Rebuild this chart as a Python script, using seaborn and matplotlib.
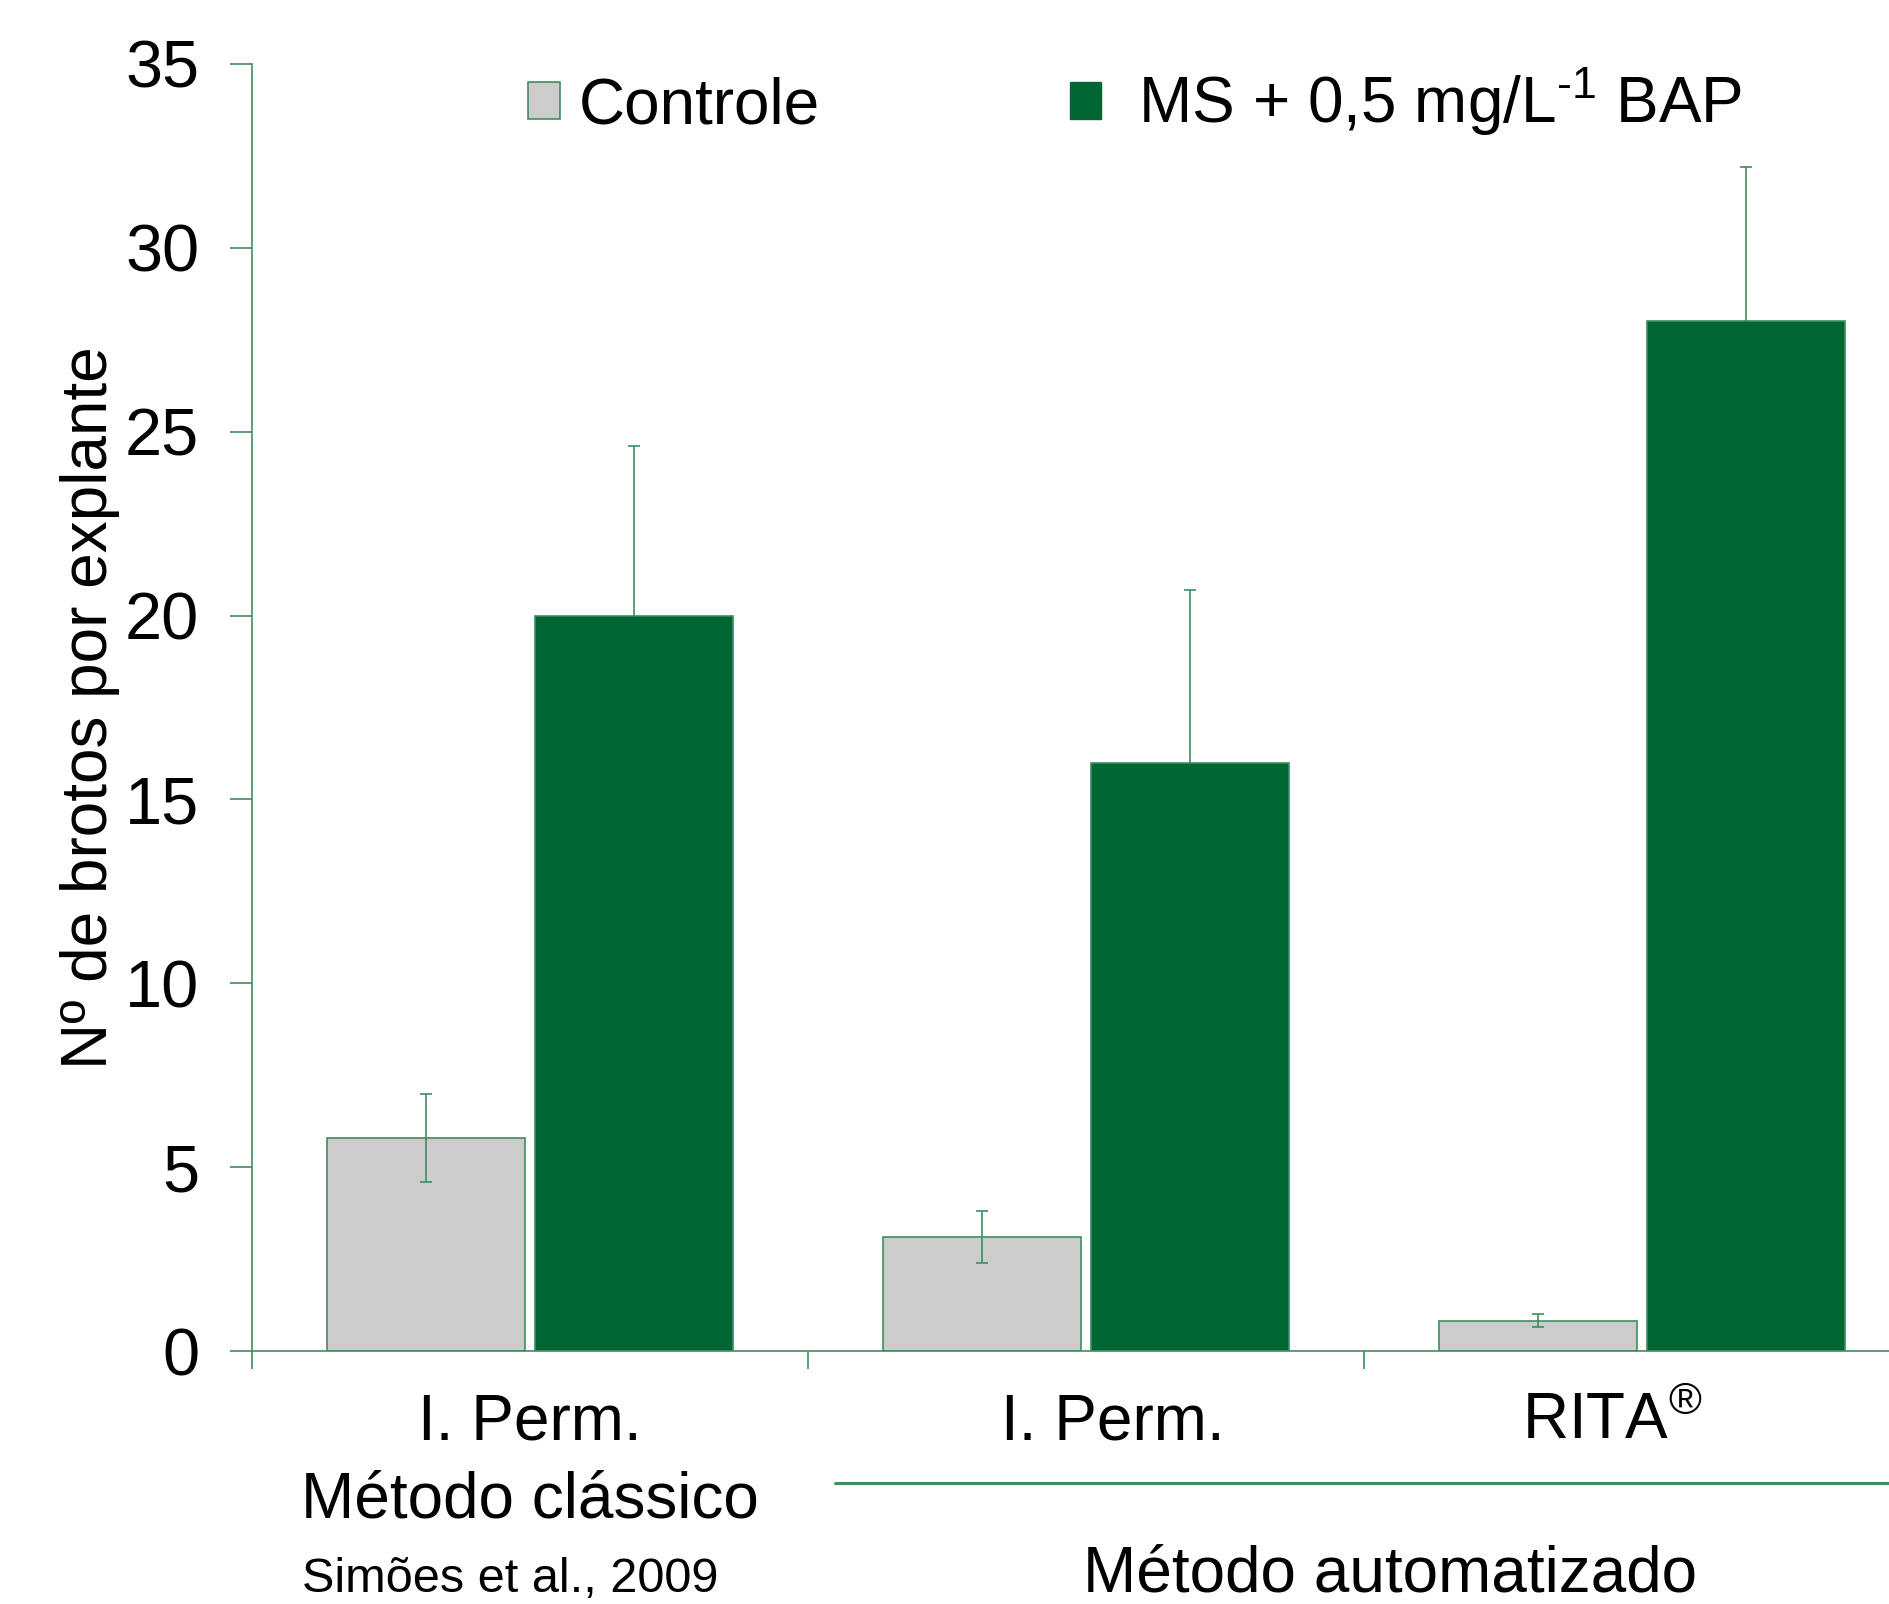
import pandas as pd
import seaborn as sns
import matplotlib.pyplot as plt
from matplotlib.patches import Patch
from matplotlib.transforms import blended_transform_factory

# Data
grupos = ["classico_perm", "auto_perm", "auto_rita"]
rotulos = ["I. Perm.", "I. Perm.", "RITA$^{®}$"]
tratamentos = ["Controle", "MS + 0,5 mg/L$^{‐1}$ BAP"]
controle = [5.8, 3.1, 0.82]
controle_err = [1.2, 0.7, 0.18]
bap = [20.0, 16.0, 28.0]
bap_err = [4.6, 4.7, 4.2]

cor_controle = "#cccccc"
cor_bap = "#006633"
cor_linha = "#3d8f5f"


def make_chart():
    df = pd.DataFrame({
        "grupo": grupos * 2,
        "tratamento": [tratamentos[0]] * 3 + [tratamentos[1]] * 3,
        "brotos": controle + bap,
    })

    sns.set_style("white")
    plt.rcParams["font.family"] = ["Liberation Sans", "DejaVu Sans"]
    plt.rcParams["mathtext.fontset"] = "custom"
    plt.rcParams["mathtext.rm"] = "Liberation Sans"
    plt.rcParams["mathtext.it"] = "Liberation Sans"
    plt.rcParams["mathtext.default"] = "regular"
    plt.rcParams["text.color"] = "black"
    plt.rcParams["axes.labelcolor"] = "black"
    plt.rcParams["ytick.color"] = "black"
    plt.rcParams["xtick.color"] = "black"

    fig = plt.figure(figsize=(18.9, 16.04), dpi=100)
    ax = fig.add_axes([252 / 1890, 253 / 1604, 1668 / 1890, 1287 / 1604])

    sns.barplot(data=df, x="grupo", y="brotos", hue="tratamento",
                order=grupos, hue_order=tratamentos,
                palette=[cor_controle, cor_bap], saturation=1,
                width=0.75, gap=0.05, errorbar=None,
                edgecolor=cor_linha, linewidth=1.2, legend=False, ax=ax)

    # error bars: the ones on the dark bars sit behind them, like the original
    for cont, err, z in zip(ax.containers, [controle_err, bap_err], [3, 0.5]):
        xs = [p.get_x() + p.get_width() / 2 for p in cont.patches]
        ys = [p.get_height() for p in cont.patches]
        ax.errorbar(xs, ys, yerr=err, fmt="none", ecolor=cor_linha,
                    elinewidth=1.2, capsize=4.5, capthick=1.2, zorder=z)

    ax.set_xlim(-0.5, 2.5)
    ax.set_ylim(0, 35)
    ax.set_yticks(range(0, 36, 5))
    ax.set_xticks([-0.5, 0.5, 1.5, 2.5])
    ax.set_xticklabels([])
    ax.tick_params(axis="y", labelsize=48, length=16, width=1.2,
                   color=cor_linha, labelcolor="black", pad=22, left=True)
    ax.tick_params(axis="x", length=13, width=1.2, color=cor_linha,
                   bottom=True)
    for s in ["top", "right"]:
        ax.spines[s].set_visible(False)
    for s in ["left", "bottom"]:
        ax.spines[s].set_color(cor_linha)
        ax.spines[s].set_linewidth(1.2)

    ax.set_xlabel("")
    ax.set_ylabel("Nº de brotos por explante", fontsize=46)
    ax.yaxis.set_label_coords(-132 / 1668, 0.5)

    # category labels
    trans = blended_transform_factory(ax.transData, fig.transFigure)
    desloc = [0.0, 0.048, -0.054]
    for i, txt in enumerate(rotulos):
        ax.text(i + desloc[i], 1 - 1422 / 1604, txt, transform=trans,
                ha="center", va="center", fontsize=46)

    fig.text(530 / 1890, 1 - 1501 / 1604, "Método clássico", ha="center",
             va="center", fontsize=46)
    fig.text(302 / 1890, 1 - 1579 / 1604, "Simões et al., 2009", ha="left",
             va="center", fontsize=35)
    fig.text(1390 / 1890, 1 - 1575 / 1604, "Método automatizado",
             ha="center", va="center", fontsize=46)
    fig.add_artist(plt.Line2D([835 / 1890, 1.0], [1 - 1483 / 1604] * 2,
                              color=cor_linha, linewidth=2.2,
                              transform=fig.transFigure))

    handles = [Patch(facecolor=cor_controle, edgecolor=cor_linha,
                     linewidth=1.2),
               Patch(facecolor=cor_bap, edgecolor=cor_bap)]
    rotulos_leg = [tratamentos[0], " " + tratamentos[1]]
    fig.legend(handles, rotulos_leg, loc="upper left",
               bbox_to_anchor=(528 / 1890, 1 - 66 / 1604), ncol=2,
               frameon=False, fontsize=46, handlelength=0.5,
               handleheight=0.5, handletextpad=0.3, columnspacing=3.9,
               borderpad=0, borderaxespad=0)

    fig.savefig("out.png", dpi=100)


if __name__ == "__main__":
    make_chart()
